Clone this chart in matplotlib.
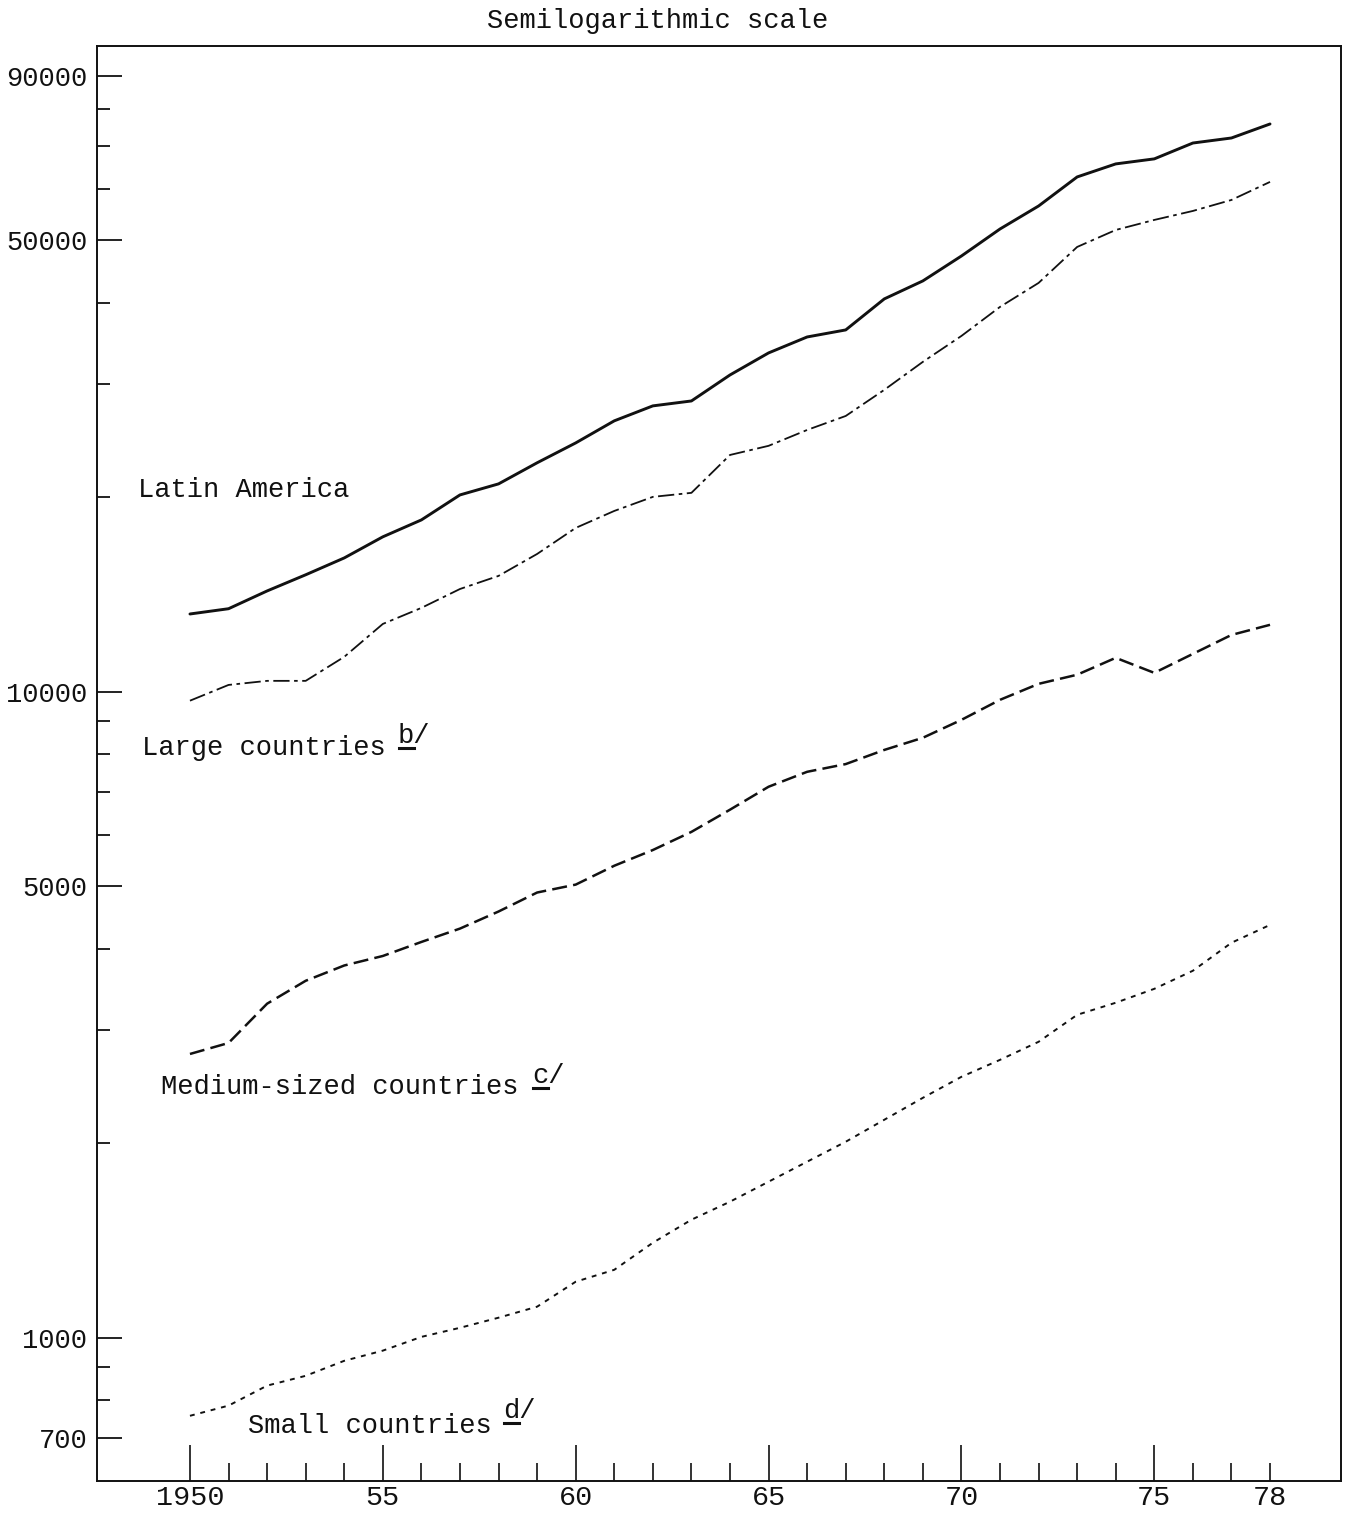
import matplotlib
matplotlib.use("Agg")
import matplotlib.pyplot as plt
from matplotlib.lines import Line2D
from matplotlib.ticker import FixedLocator, FixedFormatter, NullFormatter

# ---------------- data ----------------
years = list(range(1950, 1979))
latin_america = [13200, 13450, 14330, 15180, 16120, 17380, 18460, 20180, 20990,
                 22630, 24290, 26280, 27720, 28210, 30950, 33480, 35440, 36340,
                 40590, 43280, 47300, 52080, 56530, 62700, 65680, 66870, 70760,
                 72040, 75730]
large_countries = [9690, 10250, 10400, 10400, 11330, 12740, 13490, 14430, 15120,
                   16350, 17940, 19060, 20040, 20330, 23270, 24040, 25440, 26740,
                   29350, 32430, 35570, 39450, 42970, 48850, 51900, 53790, 55540,
                   57760, 61600]
medium_countries = [2750, 2860, 3290, 3570, 3770, 3900, 4100, 4300, 4570, 4890,
                    5030, 5380, 5690, 6070, 6570, 7130, 7520, 7730, 8130, 8490,
                    9050, 9720, 10290, 10630, 11290, 10700, 11450, 12250, 12700]
small_countries = [757, 785, 843, 873, 921, 955, 1003, 1036, 1074, 1117, 1221,
                   1274, 1403, 1523, 1624, 1744, 1873, 2011, 2175, 2352, 2535,
                   2693, 2872, 3162, 3301, 3469, 3700, 4088, 4357]

y_major_ticks = [700, 1000, 5000, 10000, 50000, 90000]
y_major_labels = ["700", "1000", "5000", "10000", "50000", "90000"]
y_minor_ticks = [800, 900, 2000, 3000, 4000, 6000, 7000, 8000, 9000,
                 20000, 30000, 40000, 60000, 70000, 80000]
x_major_ticks = [1950, 1955, 1960, 1965, 1970, 1975]
x_major_labels = ["1950", "55", "60", "65", "70", "75"]
x_minor_ticks = [y for y in years if y not in x_major_ticks]
x_minor_labels = ["78" if y == 1978 else "" for y in x_minor_ticks]

title = "Semilogarithmic scale"
series_labels = ["Latin America", "Large countries", "Medium-sized countries",
                 "Small countries"]
note_letters = ["", "b", "c", "d"]

# ---------------- figure ----------------
W, H = 1345, 1517
FONT = "Liberation Mono"
FS = 19.5
fig = plt.figure(figsize=(W / 100, H / 100), dpi=100)
fig.patch.set_facecolor("white")

def fx(px):
    return px / W

def fy(py):
    return 1 - py / H

ax = fig.add_axes([fx(97), fy(1481), fx(1341) - fx(97), fy(46) - fy(1481)])
ax.set_yscale("log")
ax.set_xlim(1947.59, 1979.84)
ax.set_ylim(600, 100000)

ink = "#111111"
ax.plot(years, latin_america, color=ink, lw=2.1, solid_capstyle="round")
ax.plot(years, large_countries, color=ink, lw=1.3, dashes=(9, 2.5, 2, 2.5))
ax.plot(years, medium_countries, color=ink, lw=1.8, dashes=(6, 2.5))
ax.plot(years, small_countries, color=ink, lw=1.4, dashes=(2.5, 3))

for s in ax.spines.values():
    s.set_color(ink)
    s.set_linewidth(1.4)

ax.yaxis.set_major_locator(FixedLocator(y_major_ticks))
ax.yaxis.set_major_formatter(FixedFormatter(y_major_labels))
ax.yaxis.set_minor_locator(FixedLocator(y_minor_ticks))
ax.yaxis.set_minor_formatter(NullFormatter())

ax.set_xticks(x_major_ticks)
ax.set_xticklabels(x_major_labels)
ax.set_xticks(x_minor_ticks, minor=True)
ax.set_xticklabels(x_minor_labels, minor=True)

ax.tick_params(axis="y", which="major", direction="in", length=18, width=1.3,
               pad=7, labelsize=FS, colors=ink)
ax.tick_params(axis="y", which="minor", direction="in", length=9, width=1.3,
               colors=ink)
ax.tick_params(axis="x", which="major", direction="in", length=26, width=1.2,
               pad=3, labelsize=FS + 1, colors=ink)
ax.tick_params(axis="x", which="minor", direction="in", length=13, width=1.2,
               pad=3, labelsize=FS + 1, colors=ink)
ax.tick_params(right=False, top=False)
for lab in ax.get_xticklabels() + ax.get_xticklabels(minor=True) + ax.get_yticklabels():
    lab.set_fontfamily(FONT)

# ---------------- texts ----------------
fig.text(fx(658), fy(21), title, ha="center", va="center", fontsize=FS,
         family=FONT, color=ink)

label_pos = [(138, 490), (142, 748), (161, 1087), (248, 1426)]
note_pos = [None, (398, 736), (532, 1076), (503, 1411)]
for lab, (lx, ly), note, npos in zip(series_labels, label_pos, note_letters, note_pos):
    fig.text(fx(lx), fy(ly), lab, ha="left", va="center", fontsize=FS,
             family=FONT, color=ink)
    if note:
        fig.text(fx(npos[0]), fy(npos[1]), note + "/", ha="left", va="center",
                 fontsize=FS, family=FONT, color=ink)
        # underline beneath the note letter
        uy = fy(npos[1] + 12)
        fig.add_artist(Line2D([fx(npos[0] + 1), fx(npos[0] + 16)], [uy, uy],
                              transform=fig.transFigure, color=ink, lw=2.2))

fig.savefig("out.png", dpi=100, facecolor="white")
